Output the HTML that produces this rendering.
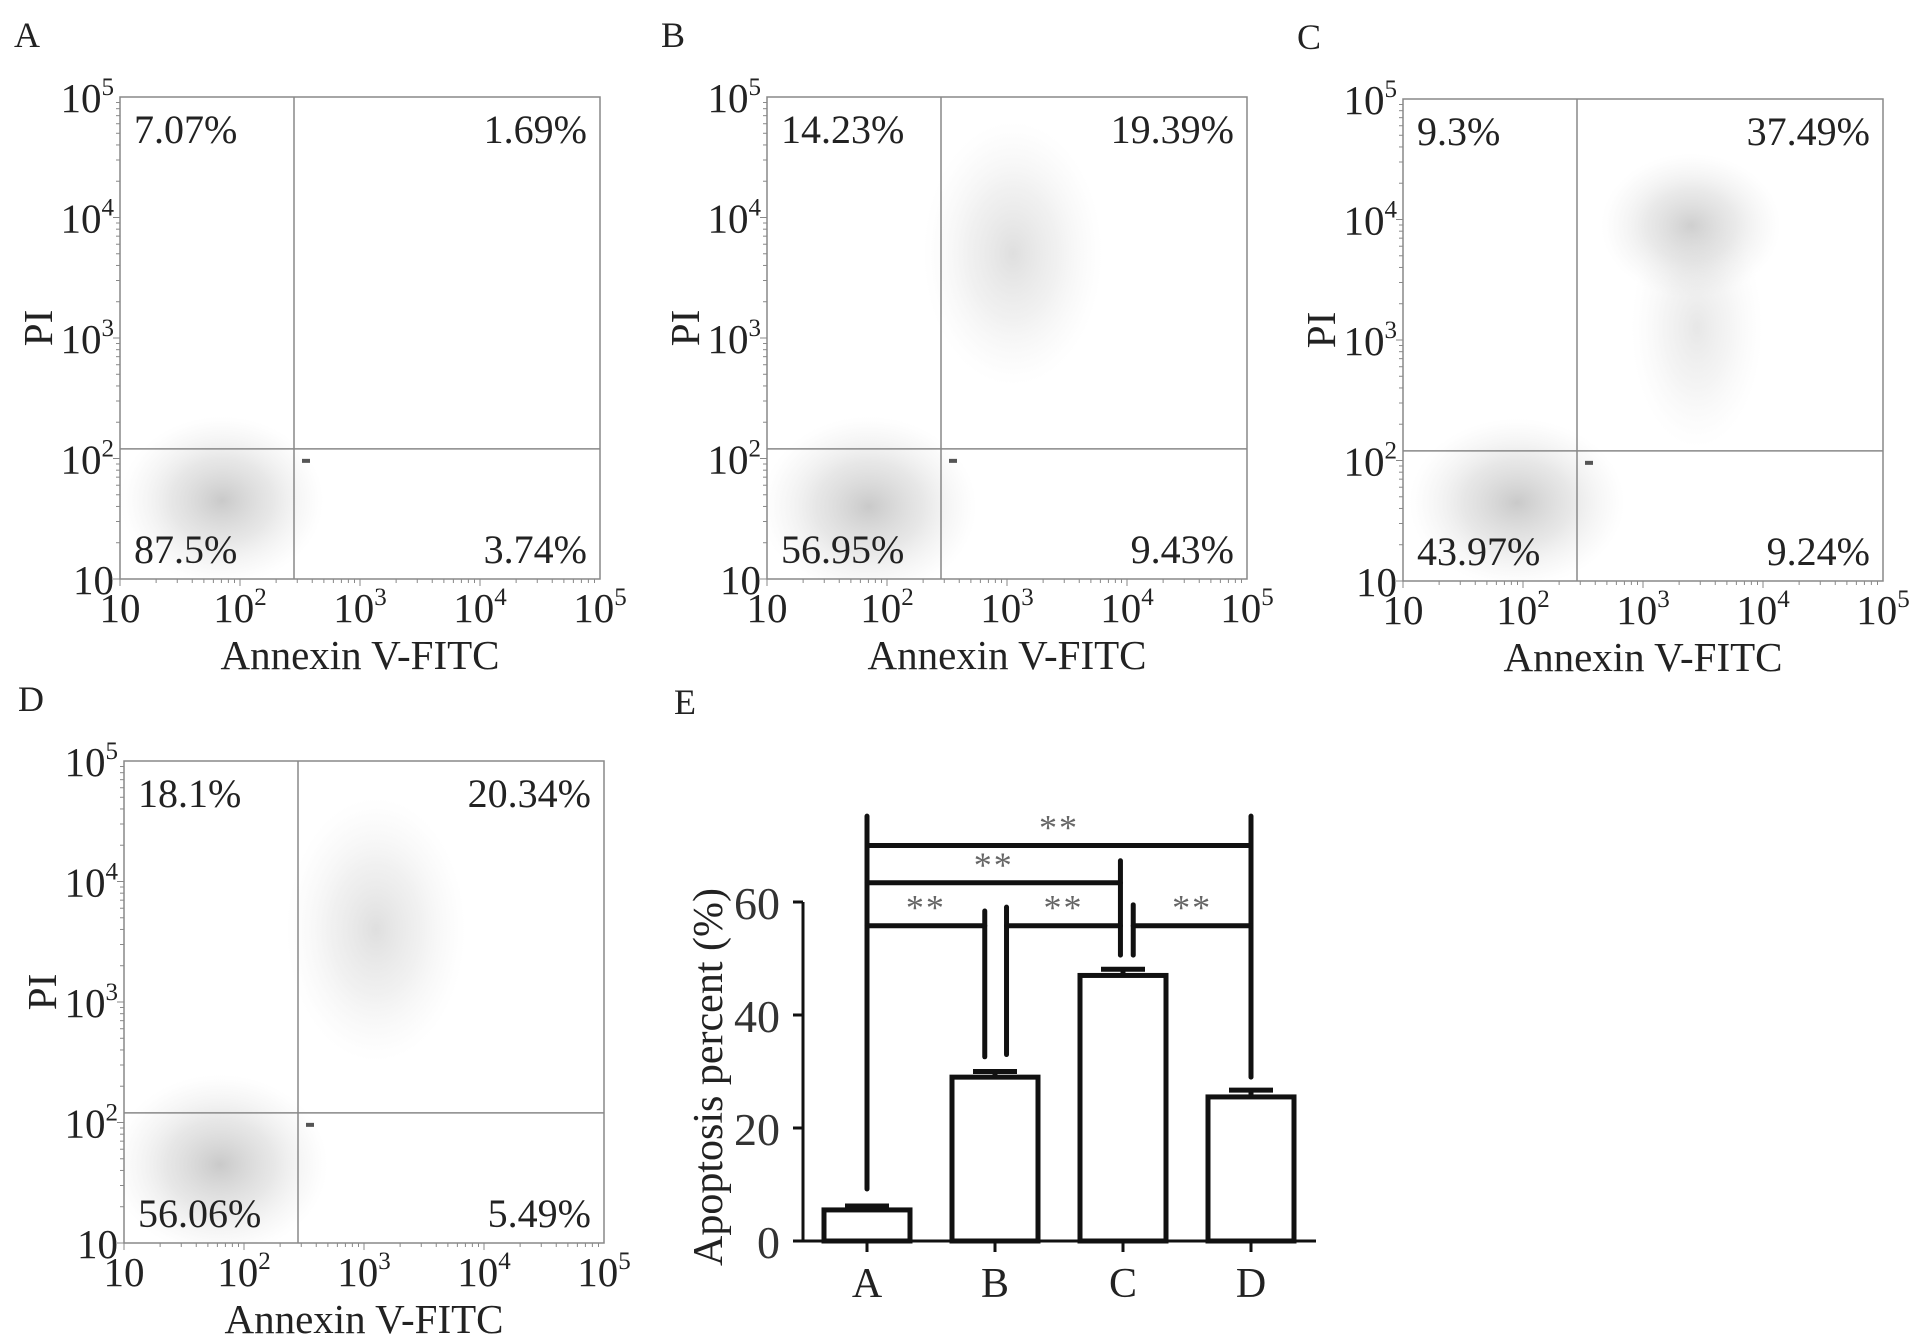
<!DOCTYPE html>
<html><head><meta charset="utf-8"><style>
html,body{margin:0;padding:0;background:#fff;}
svg{display:block;font-family:"Liberation Serif",serif;}
</style></head><body>
<svg id="fig" width="1917" height="1344" viewBox="0 0 1917 1344" xmlns="http://www.w3.org/2000/svg">
<defs>
<radialGradient id="blob"><stop offset="0" stop-color="#888" stop-opacity="0.45"/><stop offset="0.5" stop-color="#aaa" stop-opacity="0.28"/><stop offset="0.85" stop-color="#ccc" stop-opacity="0.1"/><stop offset="1" stop-color="#ddd" stop-opacity="0"/></radialGradient>
</defs>
</svg>
<script>
// ---- flow cytometry panels data ----
const flowPanels = ['A','B','C','D'];
const flowOrigins = [[120,97],[767,97],[1403,99],[124,761]];
const flowQuadLabels = [
  ['7.07%','1.69%','87.5%','3.74%'],
  ['14.23%','19.39%','56.95%','9.43%'],
  ['9.3%','37.49%','43.97%','9.24%'],
  ['18.1%','20.34%','56.06%','5.49%']
];
const gateX = [2.45,2.45,2.45,2.45];   // log10 Annexin gate
const gateY = [2.08,2.08,2.08,2.08];   // log10 PI gate
// clusters: [logX, logY, spreadX, spreadY, strength]
const clustersA = [[1.85,1.65,0.85,0.7,1.0]];
const clustersB = [[1.85,1.6,0.9,0.75,1.0],[3.05,3.7,0.75,1.1,0.6]];
const clustersC = [[1.95,1.65,0.9,0.7,1.0],[3.4,3.95,0.75,0.6,0.9],[3.45,3.1,0.55,1.0,0.45]];
const clustersD = [[1.8,1.65,0.9,0.75,1.0],[3.1,3.6,0.75,1.1,0.6]];
const flowClusters = [clustersA,clustersB,clustersC,clustersD];
const logTicks = [1,2,3,4,5];
const logTickLabels = [['10',''],['10','2'],['10','3'],['10','4'],['10','5']];

// ---- bar chart data ----
const barCats = ['A','B','C','D'];
const barVals = [5.5,29,47,25.5];
const barErr = [0.7,1.0,1.1,1.2];
const yTicks = [0,20,40,60];
const brackets = [
  {l:0,lo:0,r:3,ro:0,level:70,top:75.2,lb:9.2,rb:29,stars:'**'},
  {l:0,lo:0,r:2,ro:-0.02,level:63.4,top:null,lb:null,rb:50.6,rt:67.3,stars:'**'},
  {l:0,lo:0,r:1,ro:-0.08,level:55.8,top:null,lb:null,rb:32.6,rt:58.4,stars:'**'},
  {l:1,lo:0.09,r:2,ro:-0.02,level:55.8,lb:33,lt:59.1,stars:'**'},
  {l:2,lo:0.08,r:3,ro:0,level:55.8,lb:50.6,lt:59.5,stars:'**'}
];

const svg = document.getElementById('fig');
const NS = 'http://www.w3.org/2000/svg';
function mk(tag, attrs, parent){
  const e = document.createElementNS(NS, tag);
  for (const k in attrs) e.setAttribute(k, attrs[k]);
  (parent||svg).appendChild(e);
  return e;
}

const W = 480, H = 482;
flowPanels.forEach((p, i) => {
  const [ox, oy] = flowOrigins[i];
  const g = mk('g', {});
  
  
  const sx = v => ox + (v - 1) / 4 * W;
  const sy = v => oy + H - (v - 1) / 4 * H;
  const clip = mk('clipPath', {id: 'clip' + i}, g);
  mk('rect', {x: ox, y: oy, width: W, height: H}, clip);
  const cg = mk('g', {'clip-path': 'url(#clip' + i + ')'}, g);
  flowClusters[i].forEach(c => {
    const el = mk('ellipse', {cx: sx(c[0]), cy: sy(c[1]), rx: c[2]/4*W, ry: c[3]/4*H, fill: 'url(#blob)', opacity: c[4]}, cg);
    
    
  });
  const box = mk('rect', {x: ox, y: oy, width: W, height: H, fill: 'none', stroke: '#888', 'stroke-width': 1.5}, g);
  
  
  const vg = mk('line', {x1: sx(gateX[i]), x2: sx(gateX[i]), y1: oy, y2: oy + H, stroke: '#888', 'stroke-width': 1.5}, g);
  
  
  const hg = mk('line', {x1: ox, x2: ox + W, y1: sy(gateY[i]), y2: sy(gateY[i]), stroke: '#888', 'stroke-width': 1.5}, g);
  
  
  mk('rect', {x: sx(gateX[i]) + 8, y: sy(gateY[i]) + 10, width: 8, height: 4, fill: '#555'}, g);
  for (let d = 1; d < 5; d++) for (let m = 1; m < 10; m++) {
    const v = d + Math.log10(m);
    const len = m === 1 ? 7 : 4;
    mk('line', {x1: sx(v), x2: sx(v), y1: oy + H, y2: oy + H + len, stroke: '#888', 'stroke-width': 1}, g);
    mk('line', {x1: ox, x2: ox - len, y1: sy(v), y2: sy(v), stroke: '#888', 'stroke-width': 1}, g);
  }
  logTicks.forEach((t, k) => {
    const [b, s] = logTickLabels[k];
    const tx = mk('text', {x: sx(t), y: oy + H + 43, 'text-anchor': 'middle', 'font-size': 41, fill: '#222'}, g);
    
    
    tx.innerHTML = b + (s ? '<tspan font-size="25" dy="-17">' + s + '</tspan>' : '');
    const ty = mk('text', {x: ox - 6, y: sy(t) + 15, 'text-anchor': 'end', 'font-size': 41, fill: '#222'}, g);
    
    
    ty.innerHTML = b + (s ? '<tspan font-size="25" dy="-17">' + s + '</tspan>' : '');
  });
  const q = flowQuadLabels[i];
  const qs = [[ox + 14, oy + 46, 'start'], [ox + W - 13, oy + 46, 'end'], [ox + 14, oy + H - 16, 'start'], [ox + W - 13, oy + H - 16, 'end']];
  qs.forEach((pos, k) => {
    const t = mk('text', {x: pos[0], y: pos[1], 'text-anchor': pos[2], 'font-size': 40, fill: '#222'}, g);
    
    
    t.textContent = q[k];
  });
  const xt = mk('text', {x: ox + W / 2, y: oy + H + 90, 'text-anchor': 'middle', 'font-size': 41, fill: '#222'}, g);
  
  
  xt.textContent = 'Annexin V-FITC';
  const cy = oy + H / 2 - 10;
  const yt = mk('text', {x: 0, y: 0, transform: 'translate(' + (ox - 68) + ',' + cy + ') rotate(-90)', 'text-anchor': 'middle', 'font-size': 41, fill: '#222'}, g);
  
  
  yt.textContent = 'PI';
  const lt = mk('text', {x: ox - 106, y: oy - 50, 'font-size': 36, fill: '#222'}, g);
  
  
  lt.textContent = p;
});

// ---- bar chart ----
const bg = mk('g', {});


const y0 = 1241, pxPer = 339 / 60;
const ys = v => y0 - v * pxPer;
const bx0 = 867, bstep = 128;
const xs = i => bx0 + i * bstep;
const bw = 86;
const axY = mk('line', {x1: 803, x2: 803, y1: ys(60), y2: y0, stroke: '#111', 'stroke-width': 3}, bg);


const axX = mk('line', {x1: 793, x2: 1316, y1: y0, y2: y0, stroke: '#111', 'stroke-width': 3}, bg);


yTicks.forEach(t => {
  mk('line', {x1: 793, x2: 803, y1: ys(t), y2: ys(t), stroke: '#111', 'stroke-width': 3}, bg);
  const tl = mk('text', {x: 780, y: ys(t) + 17, 'text-anchor': 'end', 'font-size': 46, fill: '#333'}, bg);
  
  
  tl.textContent = t;
});
barCats.forEach((c, i) => {
  const r = mk('rect', {x: xs(i) - bw / 2, y: ys(barVals[i]), width: bw, height: y0 - ys(barVals[i]), fill: '#fff', stroke: '#111', 'stroke-width': 5}, bg);
  
  
  mk('line', {x1: xs(i), x2: xs(i), y1: ys(barVals[i]), y2: ys(barVals[i] + barErr[i]), stroke: '#111', 'stroke-width': 5}, bg);
  const cap = mk('line', {x1: xs(i) - 22, x2: xs(i) + 22, y1: ys(barVals[i] + barErr[i]), y2: ys(barVals[i] + barErr[i]), stroke: '#111', 'stroke-width': 5}, bg);
  
  
  mk('line', {x1: xs(i), x2: xs(i), y1: y0, y2: y0 + 11, stroke: '#111', 'stroke-width': 3}, bg);
  const xl = mk('text', {x: xs(i), y: 1297, 'text-anchor': 'middle', 'font-size': 42, fill: '#222'}, bg);
  
  
  xl.textContent = c;
});
function seg(x1, y1, x2, y2, name){
  const l = mk('line', {x1, y1, x2, y2, stroke: '#111', 'stroke-width': 5, 'stroke-linecap': 'round'}, bg);
  
  
}
brackets.forEach((b, k) => {
  const lx = xs(b.l) + b.lo * bstep, rx = xs(b.r) + b.ro * bstep;
  seg(lx, ys(b.level), rx, ys(b.level), 'significance-bracket');
  if (b.top != null) { seg(lx, ys(b.lb), lx, ys(b.top), 'bracket-leg'); seg(rx, ys(b.rb), rx, ys(b.top), 'bracket-leg'); }
  if (b.rt != null) seg(rx, ys(b.rb), rx, ys(b.rt), 'bracket-leg');
  if (b.lt != null) seg(lx, ys(b.lb), lx, ys(b.lt), 'bracket-leg');
  const st = mk('text', {x: (lx + rx) / 2, y: ys(b.level) - 6, 'text-anchor': 'middle', 'font-size': 36, 'letter-spacing': 2, fill: '#666'}, bg);
  
  
  st.textContent = b.stars;
});
const yt2 = mk('text', {x: 0, y: 0, transform: 'translate(722,1077) rotate(-90)', 'text-anchor': 'middle', 'font-size': 42, fill: '#222'}, bg);


yt2.textContent = 'Apoptosis percent (%)';
const le = mk('text', {x: 674, y: 714, 'font-size': 36, fill: '#222'}, bg);


le.textContent = 'E';
</script>
</body></html>
